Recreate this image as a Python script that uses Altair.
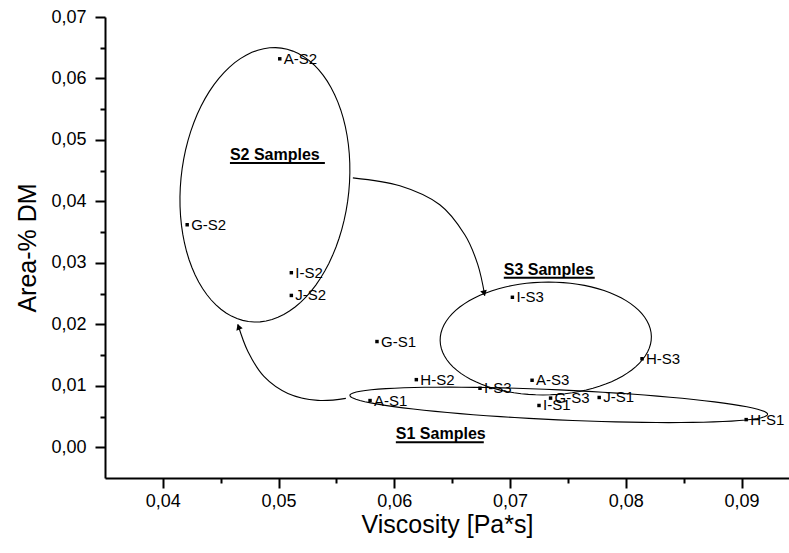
import math
import altair as alt
import pandas as pd

# ---------------- data ----------------
point_names = ["A-S2", "G-S2", "I-S2", "J-S2", "G-S1", "H-S2", "A-S1", "I-S3",
               "A-S3", "G-S3", "I-S1", "J-S1", "H-S3", "H-S1", "I-S3"]
viscosity = [0.0501, 0.0421, 0.0511, 0.0511, 0.0585, 0.0619, 0.0579, 0.0674,
             0.0719, 0.0735, 0.0725, 0.0777, 0.0814, 0.0904, 0.0702]
area_dm = [0.0632, 0.0362, 0.0284, 0.0247, 0.0172, 0.0110, 0.0076, 0.0096,
           0.0109, 0.0080, 0.0068, 0.0081, 0.0144, 0.0045, 0.0244]

x_ticks = [0.04, 0.045, 0.05, 0.055, 0.06, 0.065, 0.07, 0.075, 0.08, 0.085, 0.09]
y_ticks = [0.0, 0.005, 0.01, 0.015, 0.02, 0.025, 0.03, 0.035, 0.04, 0.045,
           0.05, 0.055, 0.06, 0.065, 0.07]

# group ellipses: centre, "up" half-diameter, "right" half-diameter (data units)
ell_names = ["S2", "S3", "S1"]
ell_cx = [0.048817, 0.073083, 0.074206]
ell_cy = [0.042695, 0.017695, 0.006899]
ell_ux = [0.001425, -0.001036, 0.0000604]
ell_uy = [0.022240, 0.009091, 0.002435]
ell_vx = [0.007202, 0.009067, 0.018048]
ell_vy = [-0.001916, 0.001299, -0.001542]

# curved arrows (path points in data units)
arrow1_x = [0.056416, 0.060475, 0.063929, 0.066088, 0.067211, 0.067815]
arrow1_y = [0.043831, 0.042532, 0.039448, 0.034578, 0.029708, 0.024675]
arrow2_x = [0.055812, 0.053394, 0.050803, 0.048731, 0.047349, 0.046485]
arrow2_y = [0.007955, 0.007630, 0.008766, 0.011526, 0.015584, 0.019968]
head_x = [0.067760, 0.046540]
head_y = [0.025050, 0.019600]
head_angle = [167, 340]

# group annotations
note_text = ["S2 Samples", "S3 Samples", "S1 Samples"]
note_x = [0.045795, 0.069456, 0.060130]
note_y = [0.046753, 0.028084, 0.001299]
note_x2 = [0.053998, 0.077314, 0.067729]
note_uy = [0.046266, 0.027597, 0.000812]

# ---------------- tables ----------------
points_df = pd.DataFrame({"x": viscosity, "y": area_dm, "name": point_names})

rows = []
n_seg = 90
for k, g in enumerate(ell_names):
    for i in range(n_seg + 1):
        t = 2 * math.pi * i / n_seg
        rows.append({
            "g": g, "i": i,
            "x": ell_cx[k] + ell_ux[k] * math.cos(t) + ell_vx[k] * math.sin(t),
            "y": ell_cy[k] + ell_uy[k] * math.cos(t) + ell_vy[k] * math.sin(t),
        })
ell_df = pd.DataFrame(rows)

arrow_rows = []
for name, xs, ys in (("a1", arrow1_x, arrow1_y), ("a2", arrow2_x, arrow2_y)):
    for i, (xv, yv) in enumerate(zip(xs, ys)):
        arrow_rows.append({"a": name, "i": i, "x": xv, "y": yv})
arrow_df = pd.DataFrame(arrow_rows)
head_df = pd.DataFrame({"x": head_x, "y": head_y, "angle": head_angle})
note_df = pd.DataFrame({"x": note_x, "y": note_y, "x2": note_x2, "uy": note_uy,
                        "text": note_text})

# ---------------- encodings ----------------
FONT = "Liberation Sans"
minor_test = "abs(datum.value*100 - round(datum.value*100)) > 0.1"
label_expr = ("abs(datum.value*100 - round(datum.value*100)) > 0.1 ? '' : "
              "replace(format(datum.value, '.2f'), '.', ',')")

x_scale = alt.Scale(domain=[0.035, 0.0941], nice=False, zero=False)
y_scale = alt.Scale(domain=[-0.005, 0.07], nice=False, zero=False)

x_axis = alt.Axis(values=x_ticks, labelExpr=label_expr, grid=False,
                  tickSize={"condition": {"test": minor_test, "value": 5}, "value": 10},
                  tickWidth=2, tickColor="black", domainColor="black", domainWidth=2,
                  labelFont=FONT, labelFontSize=18, labelColor="black", labelPadding=4,
                  titleFont=FONT, titleFontSize=25, titleFontWeight="normal",
                  titleColor="black", titlePadding=2, labelFlush=False)
y_axis = alt.Axis(values=y_ticks, labelExpr=label_expr, grid=False,
                  tickSize={"condition": {"test": minor_test, "value": 5}, "value": 10},
                  tickWidth=2, tickColor="black", domainColor="black", domainWidth=2,
                  labelFont=FONT, labelFontSize=18, labelColor="black", labelPadding=9,
                  titleFont=FONT, titleFontSize=25, titleFontWeight="normal",
                  titleColor="black", titlePadding=10, labelFlush=False)


def X(field="x"):
    return alt.X(f"{field}:Q", scale=x_scale, axis=x_axis, title="Viscosity [Pa*s]")


def Y(field="y"):
    return alt.Y(f"{field}:Q", scale=y_scale, axis=y_axis, title="Area-% DM")


# ---------------- layers ----------------
ellipses = alt.Chart(ell_df).mark_line(color="black", strokeWidth=1.1).encode(
    x=X(), y=Y(), detail="g:N", order="i:Q")

arrows = alt.Chart(arrow_df).mark_line(color="black", strokeWidth=1.1,
                                       interpolate="cardinal").encode(
    x=X(), y=Y(), detail="a:N", order="i:Q")

heads = alt.Chart(head_df).mark_point(shape="triangle-up", filled=True, size=45,
                                      color="black", opacity=1).encode(
    x=X(), y=Y(), angle=alt.Angle("angle:Q", scale=None))

markers = alt.Chart(points_df).mark_square(size=12, color="black", opacity=1).encode(
    x=X(), y=Y())

labels = alt.Chart(points_df).mark_text(align="left", baseline="middle", dx=4,
                                        font=FONT, fontSize=15, color="black").encode(
    x=X(), y=Y(), text="name:N")

notes = alt.Chart(note_df).mark_text(align="left", baseline="alphabetic", font=FONT,
                                     fontSize=16, fontWeight="bold", color="black").encode(
    x=X(), y=Y(), text="text:N")

underlines = alt.Chart(note_df).mark_rule(color="black", strokeWidth=2).encode(
    x=X(), x2="x2:Q", y=Y("uy"))

chart = alt.layer(ellipses, arrows, heads, markers, labels, notes, underlines).properties(
    width=684, height=461,
    autosize=alt.AutoSizeParams(type="none"),
    padding={"left": 105, "top": 17, "right": 0, "bottom": 75},
    background="white",
).configure_view(stroke="transparent")

chart.save("out.html", embed_options={"renderer": "svg", "actions": False})
